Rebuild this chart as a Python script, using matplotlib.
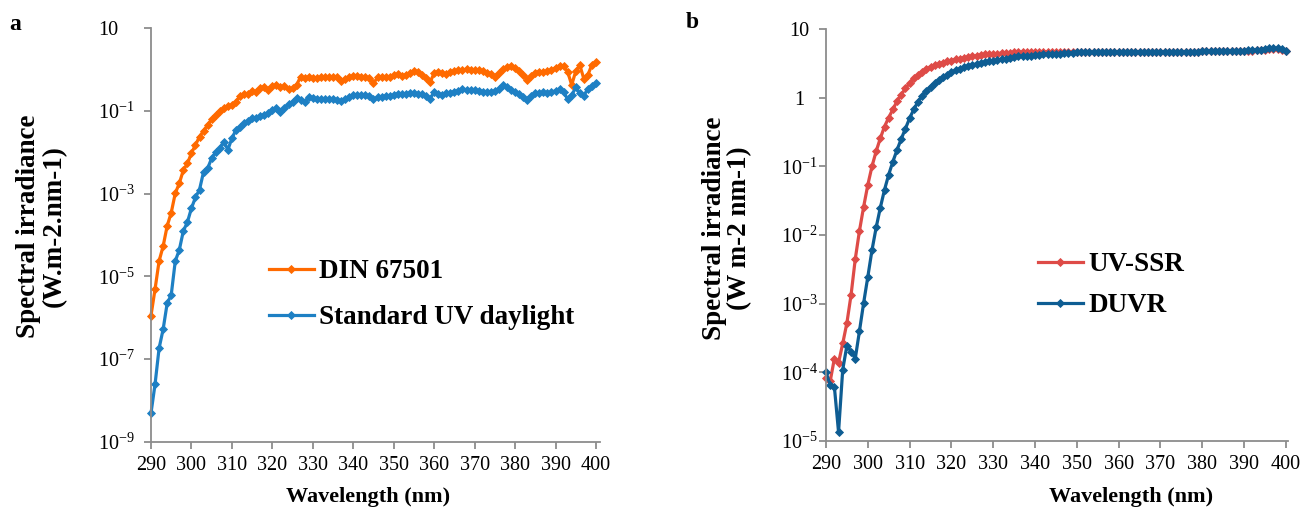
import matplotlib
matplotlib.use('Agg')
import numpy as np
import matplotlib.pyplot as plt
from matplotlib.ticker import FixedLocator, NullLocator

plt.rcParams['font.family'] = ['Liberation Serif', 'DejaVu Serif']
plt.rcParams['mathtext.fontset'] = 'custom'
plt.rcParams['mathtext.rm'] = 'Liberation Serif'
plt.rcParams['mathtext.default'] = 'regular'

# ---------------- data (log10 of spectral irradiance) -------------
wavelength = list(range(290, 401))

din_67501_log10 = [
    -5.95, -5.31, -4.63, -4.27, -3.78, -3.46, -2.99, -2.75, -2.43, -2.27,   # 290-299
    -2.02, -1.82, -1.62, -1.48, -1.34, -1.20, -1.10, -1.00, -0.94, -0.88,   # 300-309
    -0.85, -0.78, -0.64, -0.58, -0.59, -0.52, -0.53, -0.45, -0.41, -0.49,   # 310-319
    -0.40, -0.37, -0.43, -0.40, -0.47, -0.45, -0.37, -0.17, -0.21, -0.17,   # 320-329
    -0.20, -0.21, -0.19, -0.19, -0.19, -0.18, -0.18, -0.27, -0.22, -0.18,   # 330-339
    -0.15, -0.16, -0.17, -0.18, -0.21, -0.33, -0.19, -0.17, -0.17, -0.18,   # 340-349
    -0.14, -0.11, -0.16, -0.12, -0.09, -0.04, -0.06, -0.12, -0.20, -0.31,   # 350-359
    -0.08, -0.05, -0.09, -0.10, -0.06, -0.03, -0.02, -0.01, 0.01, 0.00,     # 360-369
    -0.01, -0.02, -0.03, -0.07, -0.10, -0.17, -0.09, 0.01, 0.06, 0.09,      # 370-379
    0.05, -0.03, -0.12, -0.24, -0.15, -0.07, -0.05, -0.06, -0.04, -0.02,    # 380-389
    0.05, 0.09, 0.10, -0.05, -0.37, -0.04, 0.11, -0.22, -0.13, 0.12,        # 390-399
    0.18,                                                                   # 400
]

standard_uv_daylight_log10 = [
    -8.31, -7.61, -6.74, -6.28, -5.65, -5.45, -4.63, -4.36, -3.90, -3.69,   # 290-299
    -3.35, -3.09, -2.90, -2.47, -2.39, -2.14, -2.00, -1.90, -1.74, -1.94,   # 300-309
    -1.66, -1.46, -1.38, -1.30, -1.24, -1.18, -1.17, -1.12, -1.09, -1.05,   # 310-319
    -0.98, -0.93, -1.02, -0.92, -0.84, -0.78, -0.69, -0.73, -0.79, -0.66,   # 320-329
    -0.68, -0.71, -0.70, -0.70, -0.71, -0.72, -0.73, -0.77, -0.72, -0.65,   # 330-339
    -0.62, -0.61, -0.61, -0.62, -0.64, -0.72, -0.67, -0.65, -0.64, -0.63,   # 340-349
    -0.62, -0.58, -0.58, -0.60, -0.56, -0.57, -0.58, -0.60, -0.64, -0.70,   # 350-359
    -0.54, -0.58, -0.61, -0.57, -0.56, -0.53, -0.51, -0.48, -0.50, -0.50,   # 360-369
    -0.50, -0.51, -0.53, -0.55, -0.54, -0.52, -0.46, -0.37, -0.43, -0.49,   # 370-379
    -0.53, -0.60, -0.66, -0.73, -0.64, -0.57, -0.56, -0.55, -0.56, -0.55,   # 380-389
    -0.51, -0.48, -0.55, -0.71, -0.62, -0.43, -0.57, -0.63, -0.46, -0.40,   # 390-399
    -0.33,                                                                  # 400
]

uv_ssr_log10 = [
    -4.08, -4.13, -3.80, -3.86, -3.58, -3.28, -2.87, -2.35, -1.94, -1.59,   # 290-299
    -1.27, -1.00, -0.78, -0.59, -0.42, -0.29, -0.17, -0.05, 0.04, 0.14,     # 300-309
    0.21, 0.28, 0.33, 0.38, 0.42, 0.45, 0.47, 0.49, 0.51, 0.53,             # 310-319
    0.54, 0.56, 0.57, 0.58, 0.59, 0.60, 0.61, 0.62, 0.63, 0.63,             # 320-329
    0.64, 0.64, 0.65, 0.65, 0.65, 0.66, 0.66, 0.66, 0.67, 0.67,             # 330-339
    0.67, 0.67, 0.67, 0.67, 0.67, 0.67, 0.67, 0.67, 0.67, 0.67,             # 340-349
    0.665, 0.66, 0.66, 0.66, 0.66, 0.66, 0.66, 0.66, 0.66, 0.66,            # 350-359
    0.665, 0.665, 0.665, 0.665, 0.665, 0.665, 0.665, 0.665, 0.665, 0.665,   # 360-369
    0.665, 0.665, 0.665, 0.665, 0.665, 0.665, 0.665, 0.665, 0.665, 0.665,   # 370-379
    0.675, 0.675, 0.675, 0.675, 0.675, 0.675, 0.675, 0.675, 0.675, 0.675,   # 380-389
    0.68, 0.68, 0.68, 0.69, 0.69, 0.70, 0.71, 0.71, 0.71, 0.70,             # 390-399
    0.68,                                                                   # 400
]

duvr_log10 = [
    -4.00, -4.18, -4.21, -4.87, -3.96, -3.61, -3.70, -3.80, -3.40, -2.99,   # 290-299
    -2.61, -2.22, -1.89, -1.60, -1.34, -1.12, -0.93, -0.76, -0.60, -0.45,   # 300-309
    -0.30, -0.17, -0.06, 0.03, 0.10, 0.16, 0.21, 0.26, 0.30, 0.33,          # 310-319
    0.37, 0.40, 0.42, 0.44, 0.46, 0.48, 0.49, 0.50, 0.52, 0.53,             # 320-329
    0.54, 0.55, 0.56, 0.57, 0.58, 0.59, 0.60, 0.60, 0.61, 0.61,             # 330-339
    0.62, 0.62, 0.63, 0.63, 0.64, 0.64, 0.64, 0.65, 0.65, 0.65,             # 340-349
    0.66, 0.66, 0.66, 0.66, 0.66, 0.66, 0.66, 0.66, 0.66, 0.66,             # 350-359
    0.67, 0.67, 0.67, 0.67, 0.67, 0.67, 0.67, 0.67, 0.67, 0.67,             # 360-369
    0.67, 0.67, 0.67, 0.67, 0.67, 0.67, 0.67, 0.67, 0.67, 0.67,             # 370-379
    0.68, 0.68, 0.68, 0.68, 0.68, 0.68, 0.68, 0.68, 0.68, 0.68,             # 380-389
    0.68, 0.69, 0.69, 0.70, 0.70, 0.71, 0.72, 0.72, 0.72, 0.71,             # 390-399
    0.68,                                                                   # 400
]

series_a_labels = ['DIN 67501', 'Standard UV daylight']
series_b_labels = ['UV-SSR', 'DUVR']
x_ticks = list(range(290, 401, 10))
a_y_exponents = [1, -1, -3, -5, -7, -9]
b_y_exponents = [1, 0, -1, -2, -3, -4, -5]

# ---------------- styling ----------------
C_ORANGE = '#FF6A00'
C_BLUE = '#1E80C4'
C_RED = '#DE4B47'
C_DBLUE = '#0E5D93'
SPINE = '#8C8C8C'
W, H = 1306, 516


def fig_rect(x0, y0, x1, y1):
    return [x0 / W, 1 - y1 / H, (x1 - x0) / W, (y1 - y0) / H]


def exp_label(e):
    if e == 1:
        return '10'
    if e == 0:
        return '1'
    return r'$10^{%d}$' % e


fig = plt.figure(figsize=(W / 100, H / 100), dpi=100)

axa = fig.add_axes(fig_rect(151, 28.3, 600, 441.7))
axb = fig.add_axes(fig_rect(826, 29, 1288, 441))

line_kw = dict(lw=2.3, marker='D', markersize=3.8, markeredgewidth=0.6, clip_on=False)

x = np.array(wavelength)
axa.plot(x, 10 ** np.array(din_67501_log10), color=C_ORANGE, label=series_a_labels[0], **line_kw)
axa.plot(x, 10 ** np.array(standard_uv_daylight_log10), color=C_BLUE, label=series_a_labels[1], **line_kw)
axb.plot(x, 10 ** np.array(uv_ssr_log10), color=C_RED, label=series_b_labels[0], **line_kw)
axb.plot(x, 10 ** np.array(duvr_log10), color=C_DBLUE, label=series_b_labels[1], **line_kw)

for ax, exps, ylo, xhi in ((axa, a_y_exponents, 1e-9, 401), (axb, b_y_exponents, 1e-5, 400.5)):
    ax.set_yscale('log')
    ax.set_ylim(ylo, 10)
    ax.set_xlim(290, xhi)
    ax.xaxis.set_major_locator(FixedLocator(x_ticks))
    ax.xaxis.set_minor_locator(NullLocator())
    ax.yaxis.set_major_locator(FixedLocator([10.0 ** e for e in exps]))
    ax.yaxis.set_minor_locator(NullLocator())
    ax.set_yticklabels([exp_label(e) for e in exps])
    ax.set_xticklabels([str(t) for t in x_ticks])
    for s in ('top', 'right'):
        ax.spines[s].set_visible(False)
    for s in ('left', 'bottom'):
        ax.spines[s].set_color(SPINE)
        ax.spines[s].set_linewidth(1.3)
    ax.tick_params(axis='both', which='major', direction='out', length=5, width=1.3,
                   color=SPINE, labelsize=14.5, labelcolor='black')
    ax.tick_params(axis='x', pad=5)
    ax.set_facecolor('none')

axa.tick_params(axis='y', pad=33)
for lab in axa.get_yticklabels():
    lab.set_horizontalalignment('left')
axb.tick_params(axis='y', pad=14)
for lab in axb.get_yticklabels():
    lab.set_horizontalalignment('center')

# legends
leg_kw = dict(frameon=False, prop={'weight': 'bold', 'size': 19.5}, handlelength=1.65,
              handletextpad=0.2, borderpad=0, borderaxespad=0, loc='upper left')
axa.legend(bbox_to_anchor=((269 - 151) / 449, (441.7 - 259) / 413.4),
           labelspacing=0.78, **leg_kw)
axb.legend(bbox_to_anchor=((1038 - 826) / 462, (441 - 252) / 412),
           labelspacing=0.6, **leg_kw)

# axis titles
lab_kw = dict(fontweight='bold', ha='center', va='center')
fig.text(41 / W, 1 - 226 / H, 'Spectral irradiance\n(W.m-2.nm-1)', rotation=90,
         fontsize=19.5, linespacing=1.05, multialignment='center', **lab_kw)
fig.text(727 / W, 1 - 228 / H, 'Spectral irradiance\n(W m-2 nm-1)', rotation=90,
         fontsize=19.5, linespacing=1.05, multialignment='center', **lab_kw)
fig.text(368 / W, 1 - 497 / H, 'Wavelength (nm)', fontsize=16, **lab_kw)
fig.text(1131 / W, 1 - 497 / H, 'Wavelength (nm)', fontsize=16, **lab_kw)

# panel letters
fig.text(15 / W, 1 - 24 / H, 'a', fontsize=17, **lab_kw)
fig.text(692 / W, 1 - 22 / H, 'b', fontsize=17, **lab_kw)

fig.savefig('out.png', dpi=100, facecolor='white')
